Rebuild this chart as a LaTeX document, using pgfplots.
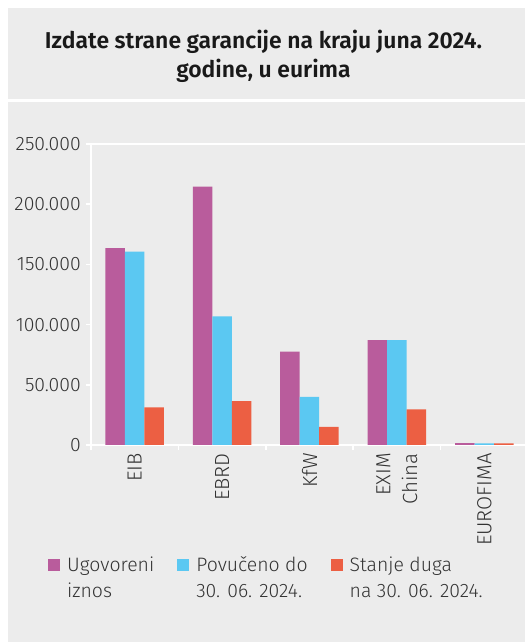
\documentclass[border=0pt]{standalone}
\usepackage{fontspec}
\setmainfont{Fira Sans}[UprightFont=* Light, BoldFont=* SemiBold]
\usepackage{pgfplots}
\pgfplotsset{compat=1.18}

\definecolor{bggray}{HTML}{ECECEC}
\definecolor{ugov}{HTML}{B95C9C}
\definecolor{povuc}{HTML}{5BC8F2}
\definecolor{stanje}{HTML}{EC5F43}
\definecolor{txt}{HTML}{333333}

\begin{document}
\begin{tikzpicture}[x=1bp,y=1bp]
\useasboundingbox (0,0) rectangle (525,642);
% panels
\fill[white] (0,0) rectangle (525,642);
\fill[bggray] (8,542.5) rectangle (525,634);
\fill[bggray] (8,0) rectangle (525,539.5);
\node[font=\bfseries\fontsize{23}{27}\selectfont, text=black!90, anchor=base, inner sep=0pt] at (263.5,593) {Izdate strane garancije na kraju juna 2024.};
\node[font=\bfseries\fontsize{23}{27}\selectfont, text=black!90, anchor=base, inner sep=0pt] at (263.5,564) {godine, u eurima};

\begin{axis}[
    at={(91bp,197bp)}, anchor=south west,
    scale only axis, width=434bp, height=301bp,
    xmin=-0.5, xmax=4.466,
    ymin=0, ymax=250000,
    axis lines*=left,
    axis line style={white, line width=1.5bp},
    ybar=0pt, bar width=19.5bp,
    xtick={0,1,2,3,4},
    xticklabels={EIB,EBRD,KfW,{EXIM\\China},EUROFIMA},
    minor xtick={-0.5,0.5,1.5,2.5,3.5},
    ytick={0,50000,100000,150000,200000,250000},
    yticklabels={0,50.000,100.000,150.000,200.000,250.000},
    minor ytick={0,50000,100000,150000,200000,250000},
    major tick length=0pt, minor tick length=5.5bp,
    tick align=outside,
    minor tick style={white, line width=1.5bp},
    scaled y ticks=false,
    ticklabel style={text=txt},
    yticklabel style={font=\fontsize{19.5}{26}\selectfont, anchor=east, inner xsep=0pt, xshift=-10bp},
    xticklabel style={font=\fontsize{20.5}{27}\selectfont, rotate=90, anchor=east, align=right, inner xsep=8bp},
    legend columns=3,
    legend image code/.code={\fill[#1] (0bp,0bp) rectangle (12bp,12bp);},
    legend style={at={(-0.0991,-0.352)}, anchor=north west, draw=none, fill=none,
        inner sep=0pt, font=\fontsize{19.5}{26}\selectfont, text=txt,
        /tikz/every odd column/.style={column sep=5bp},
        /tikz/column 2/.style={column sep=21bp},
        /tikz/column 4/.style={column sep=21bp},
        cells={anchor=base west, inner xsep=0pt}},
]
\addplot[fill=ugov, draw=none] coordinates {(0,163600) (1,214500) (2,77500) (3,87000) (4,1500)};
\addlegendentry{\begin{tabular}[t]{@{}l@{}}Ugovoreni\\iznos\end{tabular}}
\addplot[fill=povuc, draw=none] coordinates {(0,160500) (1,106900) (2,39900) (3,87000) (4,1400)};
\addlegendentry{\begin{tabular}[t]{@{}l@{}}Povučeno do\\30. 06. 2024.\end{tabular}}
\addplot[fill=stanje, draw=none] coordinates {(0,31300) (1,36500) (2,15000) (3,29600) (4,1300)};
\addlegendentry{\begin{tabular}[t]{@{}l@{}}Stanje duga\\na 30. 06. 2024.\end{tabular}}
\draw[white, line width=1.3bp] (rel axis cs:0,1) -- (rel axis cs:1,1);
\end{axis}
\end{tikzpicture}
\end{document}
